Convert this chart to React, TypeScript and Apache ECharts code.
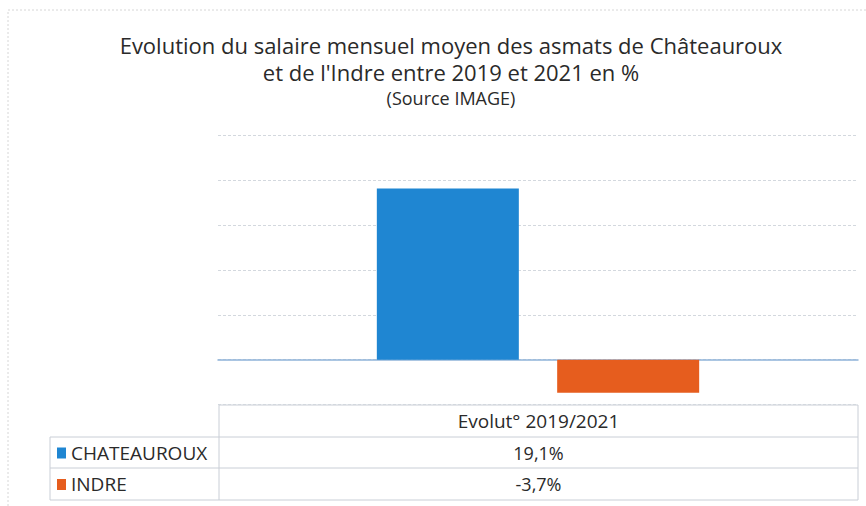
import React, { useEffect, useRef } from "react";
import * as echarts from "echarts";

const titleLines = [
  "Evolution du salaire mensuel moyen des asmats de Châteauroux",
  "et de l'Indre entre 2019 et 2021 en %",
];
const subtitle = "(Source IMAGE)";
const categories = ["Evolut° 2019/2021"];
const seriesNames = ["CHATEAUROUX", "INDRE"];
const chateaurouxValues = [19.1];
const indreValues = [-3.7];
const colors = ["#1f86d2", "#e65d1e"];

const fmt = (v: number) => v.toFixed(1).replace(".", ",") + "%";

export default function App() {
  const ref = useRef<HTMLDivElement>(null);
  useEffect(() => {
    if (!ref.current) return;
    const chart = echarts.init(ref.current, null, { renderer: "svg" });
    const font = "Open Sans";
    const textColor = "#2a2a2a";
    const lineColor = "#c9ced6";
    const allValues = [chateaurouxValues, indreValues];

    const tableLeft = 50;
    const colSep = 219;
    const tableRight = 858;
    const rowTops = [405, 437, 468, 500];
    const valueCenter = (colSep + tableRight) / 2;

    const graphics: any[] = [
      {
        type: "rect",
        shape: { x: 8, y: 10, width: 870, height: 520 },
        style: { fill: "none", stroke: "#d6d6d6", lineWidth: 1, lineDash: [2, 2] },
        silent: true,
      },
      { type: "line", shape: { x1: colSep, y1: rowTops[0], x2: colSep, y2: rowTops[3] }, style: { stroke: lineColor, lineWidth: 1 } },
      { type: "line", shape: { x1: tableRight, y1: rowTops[0], x2: tableRight, y2: rowTops[3] }, style: { stroke: lineColor, lineWidth: 1 } },
      { type: "line", shape: { x1: colSep, y1: rowTops[0], x2: tableRight, y2: rowTops[0] }, style: { stroke: lineColor, lineWidth: 1 } },
      { type: "line", shape: { x1: tableLeft, y1: rowTops[1], x2: tableRight, y2: rowTops[1] }, style: { stroke: lineColor, lineWidth: 1 } },
      { type: "line", shape: { x1: tableLeft, y1: rowTops[2], x2: tableRight, y2: rowTops[2] }, style: { stroke: lineColor, lineWidth: 1 } },
      { type: "line", shape: { x1: tableLeft, y1: rowTops[3], x2: tableRight, y2: rowTops[3] }, style: { stroke: lineColor, lineWidth: 1 } },
      { type: "line", shape: { x1: tableLeft, y1: rowTops[1], x2: tableLeft, y2: rowTops[3] }, style: { stroke: lineColor, lineWidth: 1 } },
      {
        type: "text",
        x: valueCenter,
        y: (rowTops[0] + rowTops[1]) / 2,
        style: { text: categories[0], font: `19px "${font}"`, fill: textColor, align: "center", verticalAlign: "middle" },
      },
    ];
    seriesNames.forEach((name, i) => {
      const cy = (rowTops[i + 1] + rowTops[i + 2]) / 2;
      graphics.push({
        type: "rect",
        shape: { x: 57, y: cy - 5, width: 9, height: 11 },
        style: { fill: colors[i] },
      });
      graphics.push({
        type: "text",
        x: 71,
        y: cy,
        style: { text: name, font: `19px "${font}"`, fill: textColor, align: "left", verticalAlign: "middle" },
      });
      graphics.push({
        type: "text",
        x: valueCenter,
        y: cy,
        style: { text: fmt(allValues[i][0]), font: `18px "${font}"`, fill: textColor, align: "center", verticalAlign: "middle" },
      });
    });

    chart.setOption({
      animation: false,
      backgroundColor: "#ffffff",
      title: {
        text: titleLines.join("\n"),
        subtext: subtitle,
        left: 446,
        textAlign: "center",
        top: 26,
        itemGap: 3,
        textStyle: { fontFamily: font, fontSize: 22, fontWeight: "normal", color: textColor, lineHeight: 27 },
        subtextStyle: { fontFamily: font, fontSize: 18, color: textColor, lineHeight: 20 },
      },
      grid: { left: 218, right: 8, top: 135.5, bottom: 101.5 },
      xAxis: {
        type: "category",
        data: categories,
        axisLabel: { show: false },
        axisTick: { show: false },
        axisLine: { show: true, onZero: true, lineStyle: { color: "#8fb3d9", width: 1.5 } },
      },
      yAxis: {
        type: "value",
        min: -5,
        max: 25,
        interval: 5,
        axisLabel: { show: false },
        axisLine: { show: false },
        axisTick: { show: false },
        splitLine: { show: true, lineStyle: { color: "#d3d8de", type: [3, 2], width: 1 } },
      },
      series: [
        {
          name: seriesNames[0],
          type: "bar",
          data: chateaurouxValues,
          barWidth: 142,
          barGap: "27%",
          itemStyle: { color: colors[0] },
        },
        {
          name: seriesNames[1],
          type: "bar",
          data: indreValues,
          barWidth: 142,
          barGap: "27%",
          itemStyle: { color: colors[1] },
        },
      ],
      graphic: graphics,
    });
    return () => chart.dispose();
  }, []);
  return <div ref={ref} style={{ position: "fixed", left: 0, top: 0, width: 866, height: 506 }} />;
}
